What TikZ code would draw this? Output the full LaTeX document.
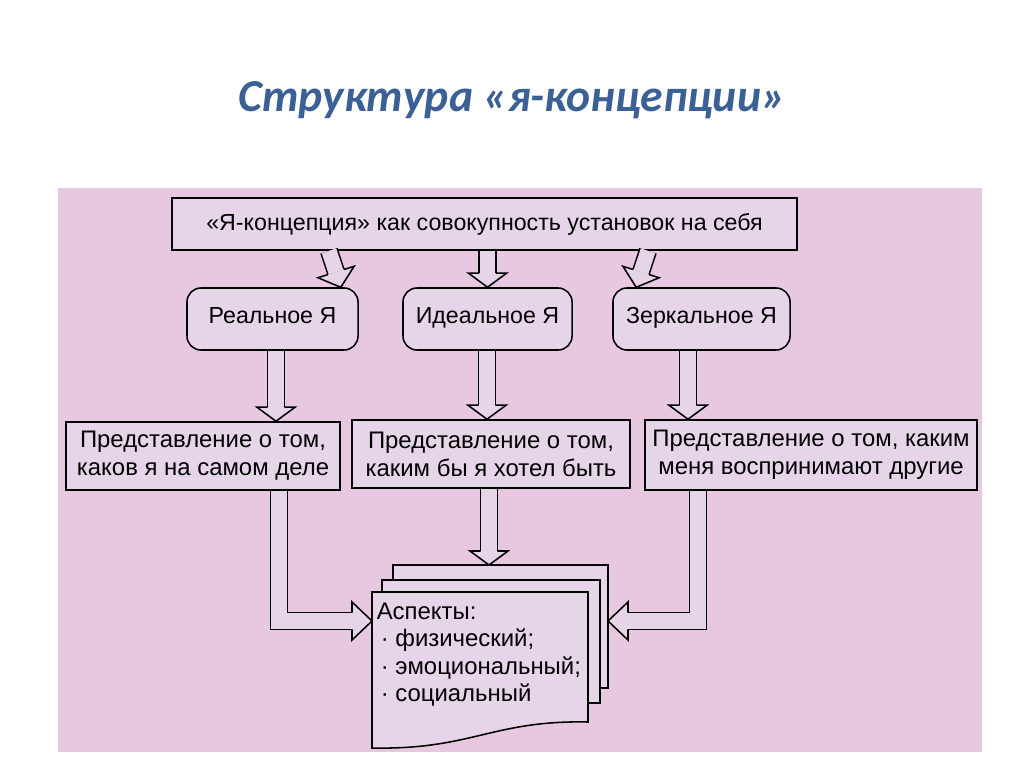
\documentclass[tikz,border=0pt]{standalone}
\usepackage{fontspec}
\setmainfont{Liberation Sans}
\newfontfamily\titlefont{Carlito}
\usetikzlibrary{calc}
\definecolor{panel}{RGB}{232,200,224}
\definecolor{boxfill}{RGB}{230,212,232}
\definecolor{titleblue}{RGB}{58,96,150}
\begin{document}
\begin{tikzpicture}[x=0.025cm,y=-0.025cm,line width=1.1pt,
    every node/.style={font=\fontsize{16.5}{20}\selectfont},
    sbox/.style={draw,fill=boxfill,inner sep=0pt},
    rbox/.style={sbox,rounded corners=0.35cm,text height=1.6ex,text depth=0.3ex},
    tbox/.style={sbox,align=center,font=\fontsize{17}{20}\selectfont},
    shaft/.style={double=boxfill,double distance=0.38cm},
    pics/fathead/.style={code={
        \fill[boxfill] (-19,0) -- (0,#1) -- (19,0) -- cycle;
        \draw (-8.4,0) -- (-19,0) -- (0,#1) -- (19,0) -- (8.4,0);}}]
    % page
    \useasboundingbox (0,0) rectangle (1024,767);
    \fill[white] (0,0) rectangle (1024,767);
    \fill[panel] (58,188) rectangle (982,752);
    \node[font=\fontsize{32.5}{40}\titlefont\bfseries\itshape, text=titleblue] (title) at (512,100) {Структура «я-концепции»};
    % boxes
    \node[sbox, minimum width=15.625cm, minimum height=1.3cm] (top) at (484.5,224) {«Я-концепция» как совокупность установок на себя};
    \node[rbox, minimum width=4.275cm, minimum height=1.55cm] (real) at (272.5,319) {Реальное Я};
    \node[rbox, minimum width=4.225cm, minimum height=1.55cm] (ideal) at (487.5,319) {Идеальное Я};
    \node[rbox, minimum width=4.425cm, minimum height=1.55cm] (mirror) at (701.5,319) {Зеркальное Я};
    \node[tbox, minimum width=6.85cm, minimum height=1.7cm] (real2) at (203,456) {Представление о том,\\каков я на самом деле};
    \node[tbox, minimum width=6.95cm, minimum height=1.7cm] (ideal2) at (491,454) {Представление о том,\\каким бы я хотел быть};
    \node[tbox, minimum width=8.3cm, minimum height=1.75cm] (mirror2) at (811,455) {Представление о том, каким\\меня воспринимают другие};
    % pages
    \coordinate (pg) at (372,592);
    \filldraw[fill=boxfill] ($(pg)+(21,-27)$) rectangle ($(pg)+(236,96)$);
    \filldraw[fill=boxfill] ($(pg)+(10,-12)$) rectangle ($(pg)+(228,111)$);
    \filldraw[fill=boxfill] (pg) -- ($(pg)+(216,0)$) -- ($(pg)+(216,130)$) .. controls ($(pg)+(120,128)$) and ($(pg)+(100,158)$) .. ($(pg)+(0,156)$) -- cycle;
    \node[anchor=north west, align=left, inner sep=0pt, font=\fontsize{17}{19.5}\selectfont] (asp) at ($(pg)+(4,10)$) {Аспекты:\\\,· физический;\\\,· эмоциональный;\\\,· социальный};
    % arrows top
    \coordinate (sa) at (329,0 |- top.south);
    \coordinate (ta) at (341,0 |- real.north);
    \draw[shaft] (sa) -- ($(ta)!0.4cm!(sa)$);
    \pic[rotate=17.5] at ($(ta)!0.4cm!(sa)$) {fathead=16};
    \draw[shaft] (ideal.north |- top.south) -- ($(ideal.north)+(0,-14)$);
    \pic at ($(ideal.north)+(0,-14)$) {fathead=14};
    \coordinate (sc) at (648,0 |- top.south);
    \coordinate (tc) at (636,0 |- mirror.north);
    \draw[shaft] (sc) -- ($(tc)!0.4cm!(sc)$);
    \pic[rotate=-17.5] at ($(tc)!0.4cm!(sc)$) {fathead=16};
    % arrows middle
    \draw[shaft] (276,0 |- real.south) -- ($(276,0 |- real2.north)+(0,-14)$);
    \pic at ($(276,0 |- real2.north)+(0,-14)$) {fathead=14};
    \draw[shaft] (487,0 |- ideal.south) -- ($(487,0 |- ideal2.north)+(0,-14)$);
    \pic at ($(487,0 |- ideal2.north)+(0,-14)$) {fathead=14};
    \draw[shaft] (688,0 |- mirror.south) -- ($(688,0 |- mirror2.north)+(0,-14)$);
    \pic at ($(688,0 |- mirror2.north)+(0,-14)$) {fathead=14};
    % arrows bottom
    \draw[shaft] (279,0 |- real2.south) |- ($(pg)+(-20,29)$);
    \pic[rotate=90] at ($(pg)+(-20,29)$) {fathead=20};
    \draw[shaft] (489,0 |- ideal2.south) -- ($(489,0 |- pg)+(0,-41)$);
    \pic at ($(489,0 |- pg)+(0,-41)$) {fathead=14};
    \draw[shaft] (698,0 |- mirror2.south) |- ($(pg)+(256,29)$);
    \pic[rotate=-90] at ($(pg)+(256,29)$) {fathead=20};
\end{tikzpicture}
\end{document}
